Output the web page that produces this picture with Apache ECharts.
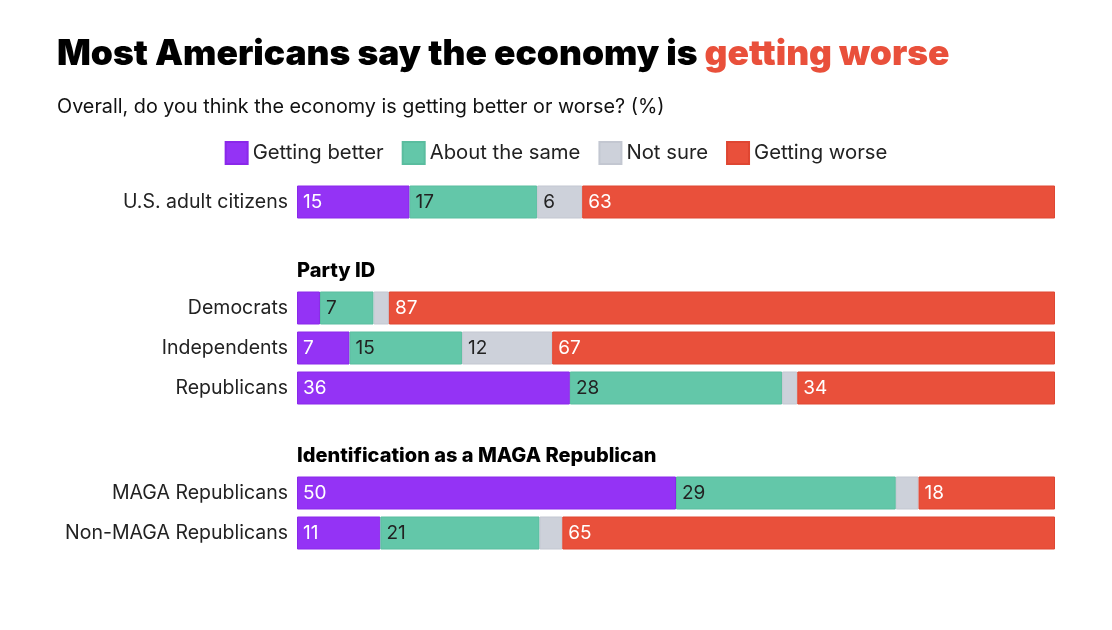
<!DOCTYPE html>
<html><head><meta charset="utf-8">
<script src="https://cdn.jsdelivr.net/npm/echarts@6/dist/echarts.min.js"></script>
<style>html,body{margin:0;padding:0;background:#fff}#c{width:1112px;height:630px}</style>
</head><body><div id="c"></div>
<script>
const seriesNames = ['Getting better', 'About the same', 'Not sure', 'Getting worse'];
const colors = ['#9433f5', '#63c7a9', '#cdd1da', '#e9503b'];
const borders = ['#8a28ea', '#5abd9f', '#c3c7d1', '#df4632'];
const labelColors = ['#ffffff', '#222222', '#222222', '#ffffff'];

const groupOverall = ['U.S. adult citizens'];
const overallBetter = [15];
const overallSame = [17];
const overallNotSure = [6];
const overallWorse = [63];

const groupParty = ['Democrats', 'Independents', 'Republicans'];
const partyBetter = [3, 7, 36];
const partySame = [7, 15, 28];
const partyNotSure = [2, 12, 2];
const partyWorse = [87, 67, 34];

const groupMaga = ['MAGA Republicans', 'Non-MAGA Republicans'];
const magaBetter = [50, 11];
const magaSame = [29, 21];
const magaNotSure = [3, 3];
const magaWorse = [18, 65];

const headers = ['Party ID', 'Identification as a MAGA Republican'];

const FONT = 'Inter, "Noto Sans", sans-serif';
const groups = [
  {cats: groupOverall, vals: [overallBetter, overallSame, overallNotSure, overallWorse], top: 182},
  {cats: groupParty, vals: [partyBetter, partySame, partyNotSure, partyWorse], top: 288},
  {cats: groupMaga, vals: [magaBetter, magaSame, magaNotSure, magaWorse], top: 473}
];

const grid = [], xAxis = [], yAxis = [], series = [];
groups.forEach((g, gi) => {
  grid.push({left: 297, right: 57, top: g.top, height: g.cats.length * 40});
  xAxis.push({type: 'value', gridIndex: gi, min: 0, max: 100, show: false});
  yAxis.push({type: 'category', gridIndex: gi, data: g.cats, inverse: true,
    axisLine: {show: false}, axisTick: {show: false},
    axisLabel: {margin: 9, fontSize: 19.5, color: '#222', fontFamily: FONT, padding: [7, 0, 0, 0]}});
  const sums = g.cats.map((c, i) => g.vals.reduce((s, arr) => s + arr[i], 0));
  g.vals.forEach((arr, si) => {
    series.push({
      name: seriesNames[si], type: 'bar', stack: 'g' + gi,
      xAxisIndex: gi, yAxisIndex: gi, barWidth: 33,
      itemStyle: {color: colors[si], borderColor: borders[si], borderWidth: 1},
      label: {show: true, position: 'insideLeft', distance: 6, fontSize: 19,
        fontFamily: FONT, color: labelColors[si],
        formatter: p => (p.data.raw >= 5 ? String(p.data.raw) : '')},
      emphasis: {disabled: true},
      data: arr.map((v, i) => ({value: v / sums[i] * 100, raw: v}))
    });
  });
});

const chart = echarts.init(document.getElementById('c'), null, {renderer: 'canvas'});
chart.setOption({
  animation: false,
  backgroundColor: '#fff',
  title: [
    {text: '{a|Most Americans say the economy is }{b|getting worse}', left: 52, top: 32,
      textStyle: {rich: {
        a: {fontSize: 35.4, fontWeight: 900, color: '#000', fontFamily: FONT},
        b: {fontSize: 35.4, fontWeight: 900, color: '#e9503b', fontFamily: FONT}}}},
    {text: 'Overall, do you think the economy is getting better or worse? (%)', left: 52, top: 92,
      textStyle: {fontSize: 19.8, fontWeight: 'normal', color: '#111', fontFamily: FONT}}
  ],
  legend: {data: seriesNames, top: 136, left: 'center', itemWidth: 22, itemHeight: 22,
    itemGap: 18, icon: 'rect', textStyle: {fontSize: 20.3, color: '#222', fontFamily: FONT}},
  grid, xAxis, yAxis, series,
  graphic: [
    {type: 'text', left: 297, top: 261, style: {text: headers[0], fontSize: 20, fontWeight: 800, fill: '#000', fontFamily: FONT}},
    {type: 'text', left: 297, top: 446, style: {text: headers[1], fontSize: 20, fontWeight: 800, fill: '#000', fontFamily: FONT}}
  ]
});
</script></body></html>
